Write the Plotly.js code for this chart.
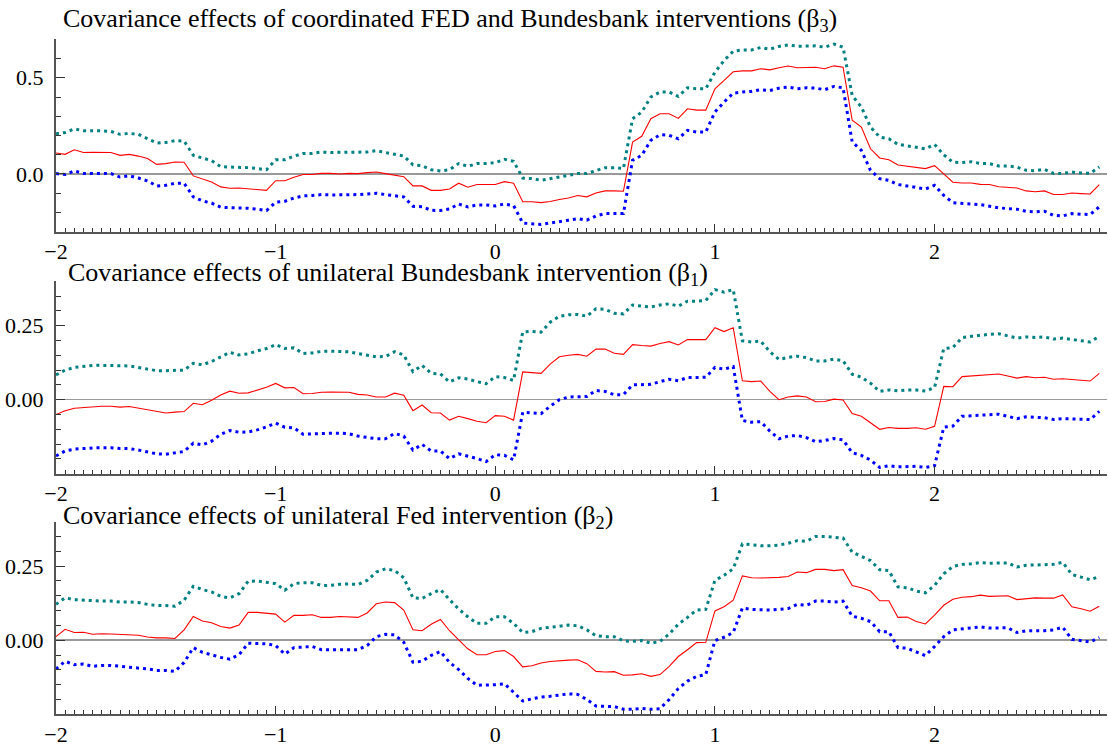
<!DOCTYPE html>
<html>
<head>
<meta charset="utf-8">
<script src="https://cdn.plot.ly/plotly-3.0.1.min.js"></script>
<style>html,body{margin:0;padding:0;background:#fff;}#chart{width:1108px;height:748px;}</style>
</head>
<body>
<div id="chart"></div>
<script>
// Shared x grid (years relative to event), half-month steps
const xGrid = [
-2, -1.9583, -1.9167, -1.875, -1.8333, -1.7917, -1.75, -1.7083, -1.6667, -1.625, -1.5833, -1.5417, -1.5, -1.4583, -1.4167, -1.375, -1.3333, -1.2917, -1.25, -1.2083, -1.1667, -1.125, -1.0833, -1.0417,
-1, -0.9583, -0.9167, -0.875, -0.8333, -0.7917, -0.75, -0.7083, -0.6667, -0.625, -0.5833, -0.5417, -0.5, -0.4583, -0.4167, -0.375, -0.3333, -0.2917, -0.25, -0.2083, -0.1667, -0.125, -0.0833, -0.0417,
0, 0.0417, 0.0833, 0.125, 0.1667, 0.2083, 0.25, 0.2917, 0.3333, 0.375, 0.4167, 0.4583, 0.5, 0.5417, 0.5833, 0.625, 0.6667, 0.7083, 0.75, 0.7917, 0.8333, 0.875, 0.9167, 0.9583,
1, 1.0417, 1.0833, 1.125, 1.1667, 1.2083, 1.25, 1.2917, 1.3333, 1.375, 1.4167, 1.4583, 1.5, 1.5417, 1.5833, 1.625, 1.6667, 1.7083, 1.75, 1.7917, 1.8333, 1.875, 1.9167, 1.9583,
2, 2.0417, 2.0833, 2.125, 2.1667, 2.2083, 2.25, 2.2917, 2.3333, 2.375, 2.4167, 2.4583, 2.5, 2.5417, 2.5833, 2.625, 2.6667, 2.7083, 2.75
];

// Panel 1: coordinated FED and Bundesbank interventions (beta3)
const coordUpper = [
0.209, 0.216, 0.234, 0.225, 0.225, 0.225, 0.221, 0.206, 0.211, 0.206, 0.183, 0.161, 0.164, 0.173, 0.171, 0.097, 0.083, 0.069, 0.038, 0.036, 0.036, 0.033, 0.028, 0.022,
0.074, 0.074, 0.093, 0.106, 0.107, 0.114, 0.112, 0.112, 0.112, 0.111, 0.114, 0.121, 0.112, 0.102, 0.093, 0.048, 0.043, 0.022, 0.016, 0.022, 0.054, 0.040, 0.054, 0.054,
0.059, 0.076, 0.066, -0.021, -0.024, -0.033, -0.024, -0.016, -0.005, 0.002, 0.002, 0.019, 0.033, 0.033, 0.028, 0.287, 0.322, 0.400, 0.426, 0.426, 0.403, 0.448, 0.443, 0.443,
0.529, 0.590, 0.638, 0.645, 0.645, 0.657, 0.649, 0.663, 0.671, 0.664, 0.666, 0.666, 0.659, 0.675, 0.659, 0.408, 0.348, 0.244, 0.192, 0.183, 0.154, 0.147, 0.140, 0.131,
0.154, 0.100, 0.061, 0.059, 0.064, 0.055, 0.054, 0.042, 0.042, 0.036, 0.019, 0.017, 0.024, 0.003, 0.003, 0.010, 0.005, 0.003, 0.036
];
const coordEst = [
0.109, 0.102, 0.126, 0.112, 0.113, 0.112, 0.112, 0.097, 0.102, 0.093, 0.080, 0.050, 0.054, 0.062, 0.061, -0.010, -0.028, -0.042, -0.067, -0.074, -0.073, -0.076, -0.081, -0.085,
-0.035, -0.035, -0.017, -0.003, -0.003, 0.003, 0.003, 0.000, 0.003, 0.002, 0.007, 0.010, 0.002, -0.007, -0.014, -0.062, -0.062, -0.085, -0.085, -0.078, -0.048, -0.069, -0.055, -0.055,
-0.055, -0.040, -0.048, -0.144, -0.144, -0.149, -0.143, -0.133, -0.125, -0.112, -0.119, -0.099, -0.088, -0.088, -0.090, 0.166, 0.196, 0.287, 0.313, 0.313, 0.289, 0.339, 0.332, 0.332,
0.443, 0.486, 0.531, 0.536, 0.536, 0.547, 0.541, 0.552, 0.561, 0.552, 0.555, 0.555, 0.547, 0.562, 0.555, 0.279, 0.244, 0.131, 0.083, 0.074, 0.047, 0.040, 0.033, 0.028,
0.043, -0.002, -0.043, -0.047, -0.047, -0.054, -0.055, -0.066, -0.071, -0.073, -0.088, -0.092, -0.088, -0.107, -0.107, -0.099, -0.102, -0.104, -0.055
];
const coordLower = [
0.002, -0.003, 0.016, 0.003, 0.003, 0.003, 0.002, -0.016, -0.009, -0.021, -0.036, -0.062, -0.059, -0.048, -0.048, -0.119, -0.140, -0.151, -0.173, -0.175, -0.175, -0.178, -0.183, -0.190,
-0.147, -0.142, -0.125, -0.114, -0.112, -0.107, -0.109, -0.109, -0.107, -0.107, -0.104, -0.100, -0.107, -0.114, -0.119, -0.168, -0.170, -0.189, -0.190, -0.182, -0.156, -0.171, -0.161, -0.161,
-0.166, -0.156, -0.164, -0.255, -0.258, -0.262, -0.255, -0.249, -0.240, -0.232, -0.240, -0.218, -0.206, -0.206, -0.206, 0.071, 0.097, 0.175, 0.204, 0.201, 0.183, 0.227, 0.218, 0.218,
0.322, 0.374, 0.420, 0.426, 0.429, 0.438, 0.434, 0.446, 0.452, 0.443, 0.448, 0.446, 0.438, 0.455, 0.448, 0.166, 0.123, 0.019, -0.024, -0.033, -0.055, -0.062, -0.071, -0.078,
-0.059, -0.111, -0.149, -0.154, -0.156, -0.159, -0.168, -0.176, -0.180, -0.183, -0.194, -0.197, -0.194, -0.215, -0.218, -0.206, -0.209, -0.211, -0.171
];

// Panel 2: unilateral Bundesbank intervention (beta1)
const bbUpper = [
0.084, 0.100, 0.109, 0.113, 0.116, 0.116, 0.115, 0.113, 0.114, 0.109, 0.103, 0.098, 0.098, 0.098, 0.100, 0.123, 0.118, 0.129, 0.145, 0.160, 0.151, 0.155, 0.165, 0.173,
0.186, 0.173, 0.175, 0.156, 0.158, 0.163, 0.164, 0.164, 0.162, 0.156, 0.151, 0.145, 0.146, 0.162, 0.151, 0.095, 0.116, 0.089, 0.087, 0.060, 0.074, 0.070, 0.061, 0.054,
0.078, 0.075, 0.065, 0.229, 0.231, 0.228, 0.262, 0.282, 0.287, 0.288, 0.282, 0.307, 0.305, 0.292, 0.290, 0.320, 0.316, 0.313, 0.320, 0.324, 0.316, 0.333, 0.333, 0.335,
0.372, 0.363, 0.372, 0.199, 0.195, 0.198, 0.162, 0.136, 0.143, 0.147, 0.142, 0.131, 0.131, 0.137, 0.132, 0.086, 0.076, 0.056, 0.028, 0.033, 0.030, 0.033, 0.033, 0.029,
0.041, 0.173, 0.176, 0.210, 0.214, 0.218, 0.221, 0.223, 0.215, 0.208, 0.212, 0.210, 0.212, 0.205, 0.208, 0.204, 0.201, 0.195, 0.214
];
const bbEst = [
-0.050, -0.037, -0.029, -0.026, -0.025, -0.022, -0.022, -0.025, -0.023, -0.029, -0.035, -0.041, -0.045, -0.042, -0.040, -0.012, -0.017, -0.002, 0.016, 0.029, 0.022, 0.023, 0.033, 0.042,
0.055, 0.040, 0.041, 0.020, 0.021, 0.025, 0.026, 0.026, 0.025, 0.018, 0.016, 0.009, 0.009, 0.022, 0.015, -0.037, -0.018, -0.044, -0.045, -0.069, -0.056, -0.064, -0.073, -0.078,
-0.054, -0.056, -0.069, 0.094, 0.092, 0.089, 0.120, 0.145, 0.150, 0.153, 0.147, 0.171, 0.171, 0.157, 0.153, 0.186, 0.183, 0.181, 0.190, 0.196, 0.185, 0.203, 0.203, 0.203,
0.243, 0.230, 0.243, 0.064, 0.061, 0.063, 0.028, 0.000, 0.009, 0.013, 0.009, -0.007, -0.006, 0.002, -0.001, -0.047, -0.056, -0.078, -0.100, -0.094, -0.097, -0.097, -0.095, -0.100,
-0.090, 0.045, 0.044, 0.078, 0.080, 0.083, 0.085, 0.087, 0.080, 0.073, 0.078, 0.074, 0.076, 0.069, 0.071, 0.068, 0.065, 0.063, 0.089
];
const bbLower = [
-0.190, -0.173, -0.167, -0.164, -0.163, -0.162, -0.162, -0.165, -0.165, -0.170, -0.176, -0.183, -0.184, -0.180, -0.175, -0.147, -0.153, -0.140, -0.117, -0.104, -0.110, -0.109, -0.102, -0.092,
-0.079, -0.093, -0.095, -0.117, -0.115, -0.113, -0.113, -0.113, -0.115, -0.123, -0.128, -0.132, -0.132, -0.114, -0.123, -0.170, -0.151, -0.173, -0.173, -0.199, -0.183, -0.190, -0.199, -0.209,
-0.186, -0.188, -0.203, -0.042, -0.045, -0.047, -0.022, 0.000, 0.009, 0.011, 0.011, 0.031, 0.028, 0.017, 0.017, 0.050, 0.050, 0.052, 0.061, 0.069, 0.064, 0.075, 0.075, 0.076,
0.109, 0.103, 0.112, -0.070, -0.076, -0.074, -0.106, -0.132, -0.123, -0.121, -0.128, -0.142, -0.138, -0.131, -0.136, -0.179, -0.188, -0.204, -0.229, -0.223, -0.227, -0.225, -0.225, -0.229,
-0.223, -0.093, -0.089, -0.056, -0.054, -0.051, -0.050, -0.049, -0.056, -0.064, -0.058, -0.060, -0.061, -0.067, -0.064, -0.065, -0.067, -0.067, -0.039
];

// Panel 3: unilateral Fed intervention (beta2)
const fedUpper = [
0.121, 0.143, 0.137, 0.135, 0.133, 0.132, 0.132, 0.129, 0.129, 0.127, 0.121, 0.117, 0.117, 0.115, 0.135, 0.182, 0.171, 0.163, 0.148, 0.143, 0.157, 0.199, 0.200, 0.196,
0.191, 0.169, 0.191, 0.194, 0.194, 0.185, 0.185, 0.189, 0.190, 0.188, 0.202, 0.230, 0.241, 0.235, 0.211, 0.143, 0.141, 0.157, 0.171, 0.137, 0.105, 0.079, 0.057, 0.057,
0.079, 0.079, 0.057, 0.026, 0.029, 0.040, 0.044, 0.048, 0.051, 0.049, 0.035, 0.015, 0.012, 0.012, -0.002, -0.004, -0.001, -0.010, -0.004, 0.021, 0.054, 0.077, 0.102, 0.104,
0.202, 0.219, 0.241, 0.325, 0.321, 0.319, 0.319, 0.321, 0.327, 0.336, 0.334, 0.350, 0.350, 0.347, 0.345, 0.297, 0.283, 0.269, 0.238, 0.235, 0.180, 0.177, 0.166, 0.160,
0.185, 0.224, 0.249, 0.256, 0.258, 0.262, 0.260, 0.260, 0.261, 0.247, 0.253, 0.254, 0.254, 0.256, 0.263, 0.222, 0.213, 0.204, 0.215
];
const fedEst = [
0.012, 0.037, 0.026, 0.027, 0.020, 0.022, 0.021, 0.019, 0.018, 0.017, 0.011, 0.008, 0.008, 0.006, 0.035, 0.080, 0.065, 0.059, 0.046, 0.041, 0.051, 0.094, 0.094, 0.092,
0.088, 0.061, 0.084, 0.084, 0.086, 0.077, 0.077, 0.080, 0.079, 0.077, 0.092, 0.123, 0.129, 0.127, 0.102, 0.035, 0.032, 0.054, 0.070, 0.032, 0.001, -0.029, -0.049, -0.049,
-0.038, -0.035, -0.055, -0.090, -0.086, -0.077, -0.072, -0.069, -0.067, -0.066, -0.079, -0.105, -0.107, -0.106, -0.118, -0.117, -0.113, -0.122, -0.116, -0.088, -0.055, -0.032, -0.008, -0.007,
0.099, 0.113, 0.135, 0.217, 0.211, 0.210, 0.210, 0.212, 0.215, 0.230, 0.228, 0.239, 0.239, 0.235, 0.238, 0.185, 0.177, 0.166, 0.133, 0.133, 0.077, 0.078, 0.063, 0.055,
0.085, 0.118, 0.138, 0.145, 0.147, 0.152, 0.148, 0.148, 0.150, 0.137, 0.141, 0.143, 0.142, 0.142, 0.153, 0.113, 0.106, 0.098, 0.115
];
const fedLower = [
-0.097, -0.071, -0.083, -0.080, -0.088, -0.085, -0.085, -0.088, -0.090, -0.092, -0.097, -0.102, -0.102, -0.105, -0.075, -0.025, -0.041, -0.049, -0.058, -0.064, -0.049, -0.010, -0.010, -0.012,
-0.018, -0.047, -0.025, -0.023, -0.021, -0.032, -0.032, -0.030, -0.030, -0.032, -0.018, 0.012, 0.020, 0.018, -0.007, -0.074, -0.071, -0.051, -0.038, -0.075, -0.099, -0.129, -0.152, -0.152,
-0.150, -0.147, -0.175, -0.205, -0.198, -0.192, -0.189, -0.185, -0.181, -0.183, -0.200, -0.222, -0.224, -0.224, -0.233, -0.233, -0.230, -0.233, -0.231, -0.200, -0.163, -0.138, -0.122, -0.116,
-0.001, 0.010, 0.026, 0.109, 0.104, 0.102, 0.102, 0.104, 0.107, 0.121, 0.118, 0.132, 0.132, 0.129, 0.132, 0.081, 0.074, 0.063, 0.029, 0.029, -0.025, -0.027, -0.040, -0.052,
-0.021, 0.012, 0.035, 0.038, 0.040, 0.045, 0.041, 0.041, 0.042, 0.026, 0.032, 0.032, 0.032, 0.035, 0.044, 0.003, -0.001, -0.006, 0.009
];

const panelTitles = [
  'Covariance effects of coordinated FED and Bundesbank interventions (β<sub>3</sub>)',
  'Covariance effects of unilateral Bundesbank intervention (β<sub>1</sub>)',
  'Covariance effects of unilateral Fed intervention (β<sub>2</sub>)'
];
const xTickVals = [-2, -1, 0, 1, 2];
const xTickText = ['\u22122', '\u22121', '0', '1', '2'];
const yTickVals1 = [0, 0.5];
const yTickText1 = ['0.0', '0.5'];
const yTickVals23 = [0, 0.25];
const yTickText23 = ['0.00', '0.25'];

const serif = 'Liberation Serif';
const C_UP = '#008080', C_EST = '#ff0000', C_LO = '#0000ff';

function band(axisIdx, up, est, lo) {
  const xa = axisIdx === 1 ? 'x' : 'x' + axisIdx;
  const ya = axisIdx === 1 ? 'y' : 'y' + axisIdx;
  return [
    {x: xGrid, y: up, xaxis: xa, yaxis: ya, mode: 'lines', line: {color: C_UP, width: 3, dash: '3px,4px'}, hoverinfo: 'skip'},
    {x: xGrid, y: lo, xaxis: xa, yaxis: ya, mode: 'lines', line: {color: C_LO, width: 3, dash: '3px,4px'}, hoverinfo: 'skip'},
    {x: xGrid, y: est, xaxis: xa, yaxis: ya, mode: 'lines', line: {color: C_EST, width: 1.1}, hoverinfo: 'skip'}
  ];
}

const data = [].concat(
  band(1, coordUpper, coordEst, coordLower),
  band(2, bbUpper, bbEst, bbLower),
  band(3, fedUpper, fedEst, fedLower)
);

function xAxis(anchor) {
  return {
    domain: [0, 1], range: [-2, 2.785], anchor: anchor,
    showline: true, linecolor: '#555', linewidth: 2, mirror: false,
    showgrid: false, zeroline: false,
    ticks: 'inside', ticklen: 8, tickwidth: 1, tickcolor: '#333',
    tickmode: 'array', tickvals: xTickVals, ticktext: xTickText,
    minor: {tickmode: 'linear', tick0: -2, dtick: 1/24, ticks: 'inside', ticklen: 4, tickwidth: 1, tickcolor: '#333', showgrid: false},
    tickfont: {family: serif, size: 22, color: '#000'},
    ticklabelstandoff: -1
  };
}
function yAxis(anchor, dom, rng, tv, tt, minorStep) {
  return {
    domain: dom, range: rng, anchor: anchor,
    showline: true, linecolor: '#555', linewidth: 2,
    showgrid: false, zeroline: true, zerolinecolor: '#999', zerolinewidth: 1.5,
    ticks: 'inside', ticklen: 9, tickwidth: 1, tickcolor: '#333',
    tickmode: 'array', tickvals: tv, ticktext: tt,
    minor: {tickmode: 'linear', tick0: 0, dtick: minorStep, ticks: 'inside', ticklen: 5, tickwidth: 1, tickcolor: '#333', showgrid: false},
    tickfont: {family: serif, size: 22, color: '#000'},
    ticklabelstandoff: 6
  };
}

const W = 1108, H = 748, ML = 56, MR = 1;
function px2x(px) { return (px - ML) / (W - ML - MR); }
function px2y(py) { return 1 - py / H; }

const titleFont = {family: serif, size: 26, color: '#000'};
const layout = {
  width: W, height: H,
  margin: {l: ML, r: MR, t: 0, b: 0},
  paper_bgcolor: '#fff', plot_bgcolor: '#fff',
  showlegend: false,
  font: {family: serif, color: '#000'},
  xaxis: xAxis('y'),
  xaxis2: xAxis('y2'),
  xaxis3: xAxis('y3'),
  yaxis: yAxis('x', [px2y(231.7), px2y(39.3)], [-0.3, 0.7], yTickVals1, yTickText1, 0.1),
  yaxis2: yAxis('x2', [px2y(473.7), px2y(281.3)], [-0.25, 0.4], yTickVals23, yTickText23, 0.05),
  yaxis3: yAxis('x3', [px2y(714.3), px2y(521.7)], [-0.25, 0.4], yTickVals23, yTickText23, 0.05),
  annotations: [
    {text: panelTitles[0], xref: 'paper', yref: 'paper', x: px2x(61), y: px2y(20), xanchor: 'left', yanchor: 'middle', showarrow: false, font: titleFont},
    {text: panelTitles[1], xref: 'paper', yref: 'paper', x: px2x(66), y: px2y(274), xanchor: 'left', yanchor: 'middle', showarrow: false, font: titleFont},
    {text: panelTitles[2], xref: 'paper', yref: 'paper', x: px2x(61), y: px2y(517), xanchor: 'left', yanchor: 'middle', showarrow: false, font: titleFont}
  ]
};

Plotly.newPlot('chart', data, layout, {displayModeBar: false, staticPlot: true});
</script>
</body>
</html>
